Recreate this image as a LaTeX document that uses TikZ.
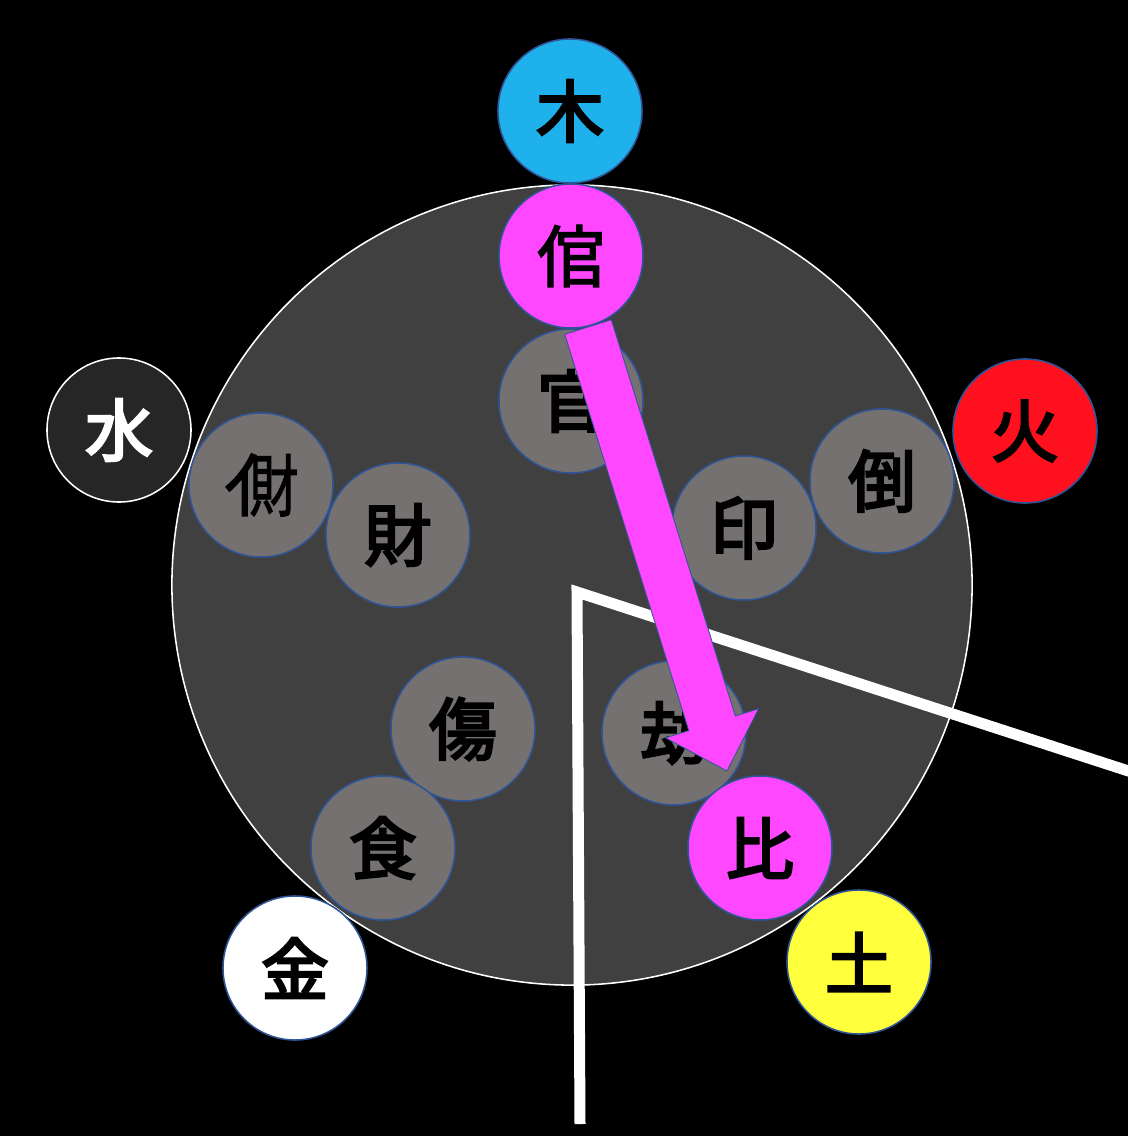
\documentclass[tikz,border=0pt]{standalone}
\usepackage{fontspec}
\usepackage{graphicx}
\newfontfamily\cjkthin{Noto Sans CJK JP}[FakeBold=2]
\newfontfamily\cjkmid{Noto Sans CJK JP}[FakeBold=3.8]
\usetikzlibrary{calc}
\definecolor{bigfill}{HTML}{404040}
\definecolor{stargray}{HTML}{767171}
\definecolor{edgeblue}{HTML}{2F5597}
\definecolor{hlmag}{HTML}{FF47FF}
\definecolor{wood}{HTML}{1FB1EC}
\definecolor{fire}{HTML}{FF101E}
\definecolor{earth}{HTML}{FFFF3C}
\definecolor{water}{HTML}{262626}
\newcommand\glyphfont{\cjkmid\mdseries\fontsize{48}{48}\selectfont}
\newcommand\lightfont{\cjkthin\mdseries\fontsize{48}{48}\selectfont}
\newcommand\henzaiglyph{\mbox{亻\kern-0.62em\scalebox{0.72}[1]{財}}}
\begin{document}
\begin{tikzpicture}[x=0.025cm,y=-0.025cm,
  disc/.style={circle, minimum size=3.6cm, inner sep=0pt, draw=edgeblue, line width=1.1pt, font=\glyphfont, text=black},
  stardisc/.style={disc, fill=stargray},
  hldisc/.style={disc, fill=hlmag},
  wline/.style={draw=white, line width=0.275cm, line join=miter}]
\useasboundingbox (0,0) rectangle (1128,1136);
\clip (0,0) rectangle (1128,1136);
\fill[black] (0,0) rectangle (1128,1136);
% big wheel
\node[circle, minimum size=20cm, inner sep=0pt, fill=bigfill, draw=white, line width=1.1pt] (wheel) at (572,585) {};
% ten stars
\node[stardisc] (kan) at (571,401) {官};
\node[stardisc] (hzai) at (261,485) {\lightfont\henzaiglyph};
\node[stardisc] (zai) at (398,535) {財};
\node[stardisc] (in) at (744,528) {印};
\node[stardisc] (tou) at (882,481) {倒};
\node[stardisc] (shou) at (463,729) {傷};
\node[stardisc] (shoku) at (383,848) {食};
\node[stardisc] (kou) at (674,733) {劫};
% five elements
\node[disc, fill=wood] (moku) at (570,111) {木};
\node[disc, fill=fire] (ka) at (1025,431) {火};
\node[disc, fill=earth] (do) at (859,962) {土};
\node[disc, fill=white] (kin) at (295,968) {金};
\node[disc, fill=water, draw=white, text=white] (sui) at (119,430) {水};
% white lines
\coordinate (lb) at (580,1124);
\coordinate (lc) at (577,592);
\coordinate (lr) at (1150,778);
\draw[wline] (lr) -- (lc) -- (lb);
% highlighted stars
\node[hldisc] (kanm) at (571,256) {\lightfont 倌};
\node[hldisc] (hi) at (760,848) {比};
% block arrow
\coordinate (at) at ($(kanm.center)+(17,71)$);
\coordinate (ah) at ($(hi.center)+(-33,-77)$);
\coordinate (hb) at ($(ah)!1.25cm!(at)$);
\filldraw[fill=hlmag, draw=edgeblue, line width=0.6pt, line join=miter]
  ($(at)!0.61cm!90:(ah)$) -- ($(hb)!0.61cm!-90:(at)$) -- ($(hb)!1.22cm!-90:(at)$) -- (ah)
  -- ($(hb)!1.22cm!90:(at)$) -- ($(hb)!0.61cm!90:(at)$) -- ($(at)!0.61cm!-90:(ah)$) -- cycle;
\end{tikzpicture}
\end{document}
